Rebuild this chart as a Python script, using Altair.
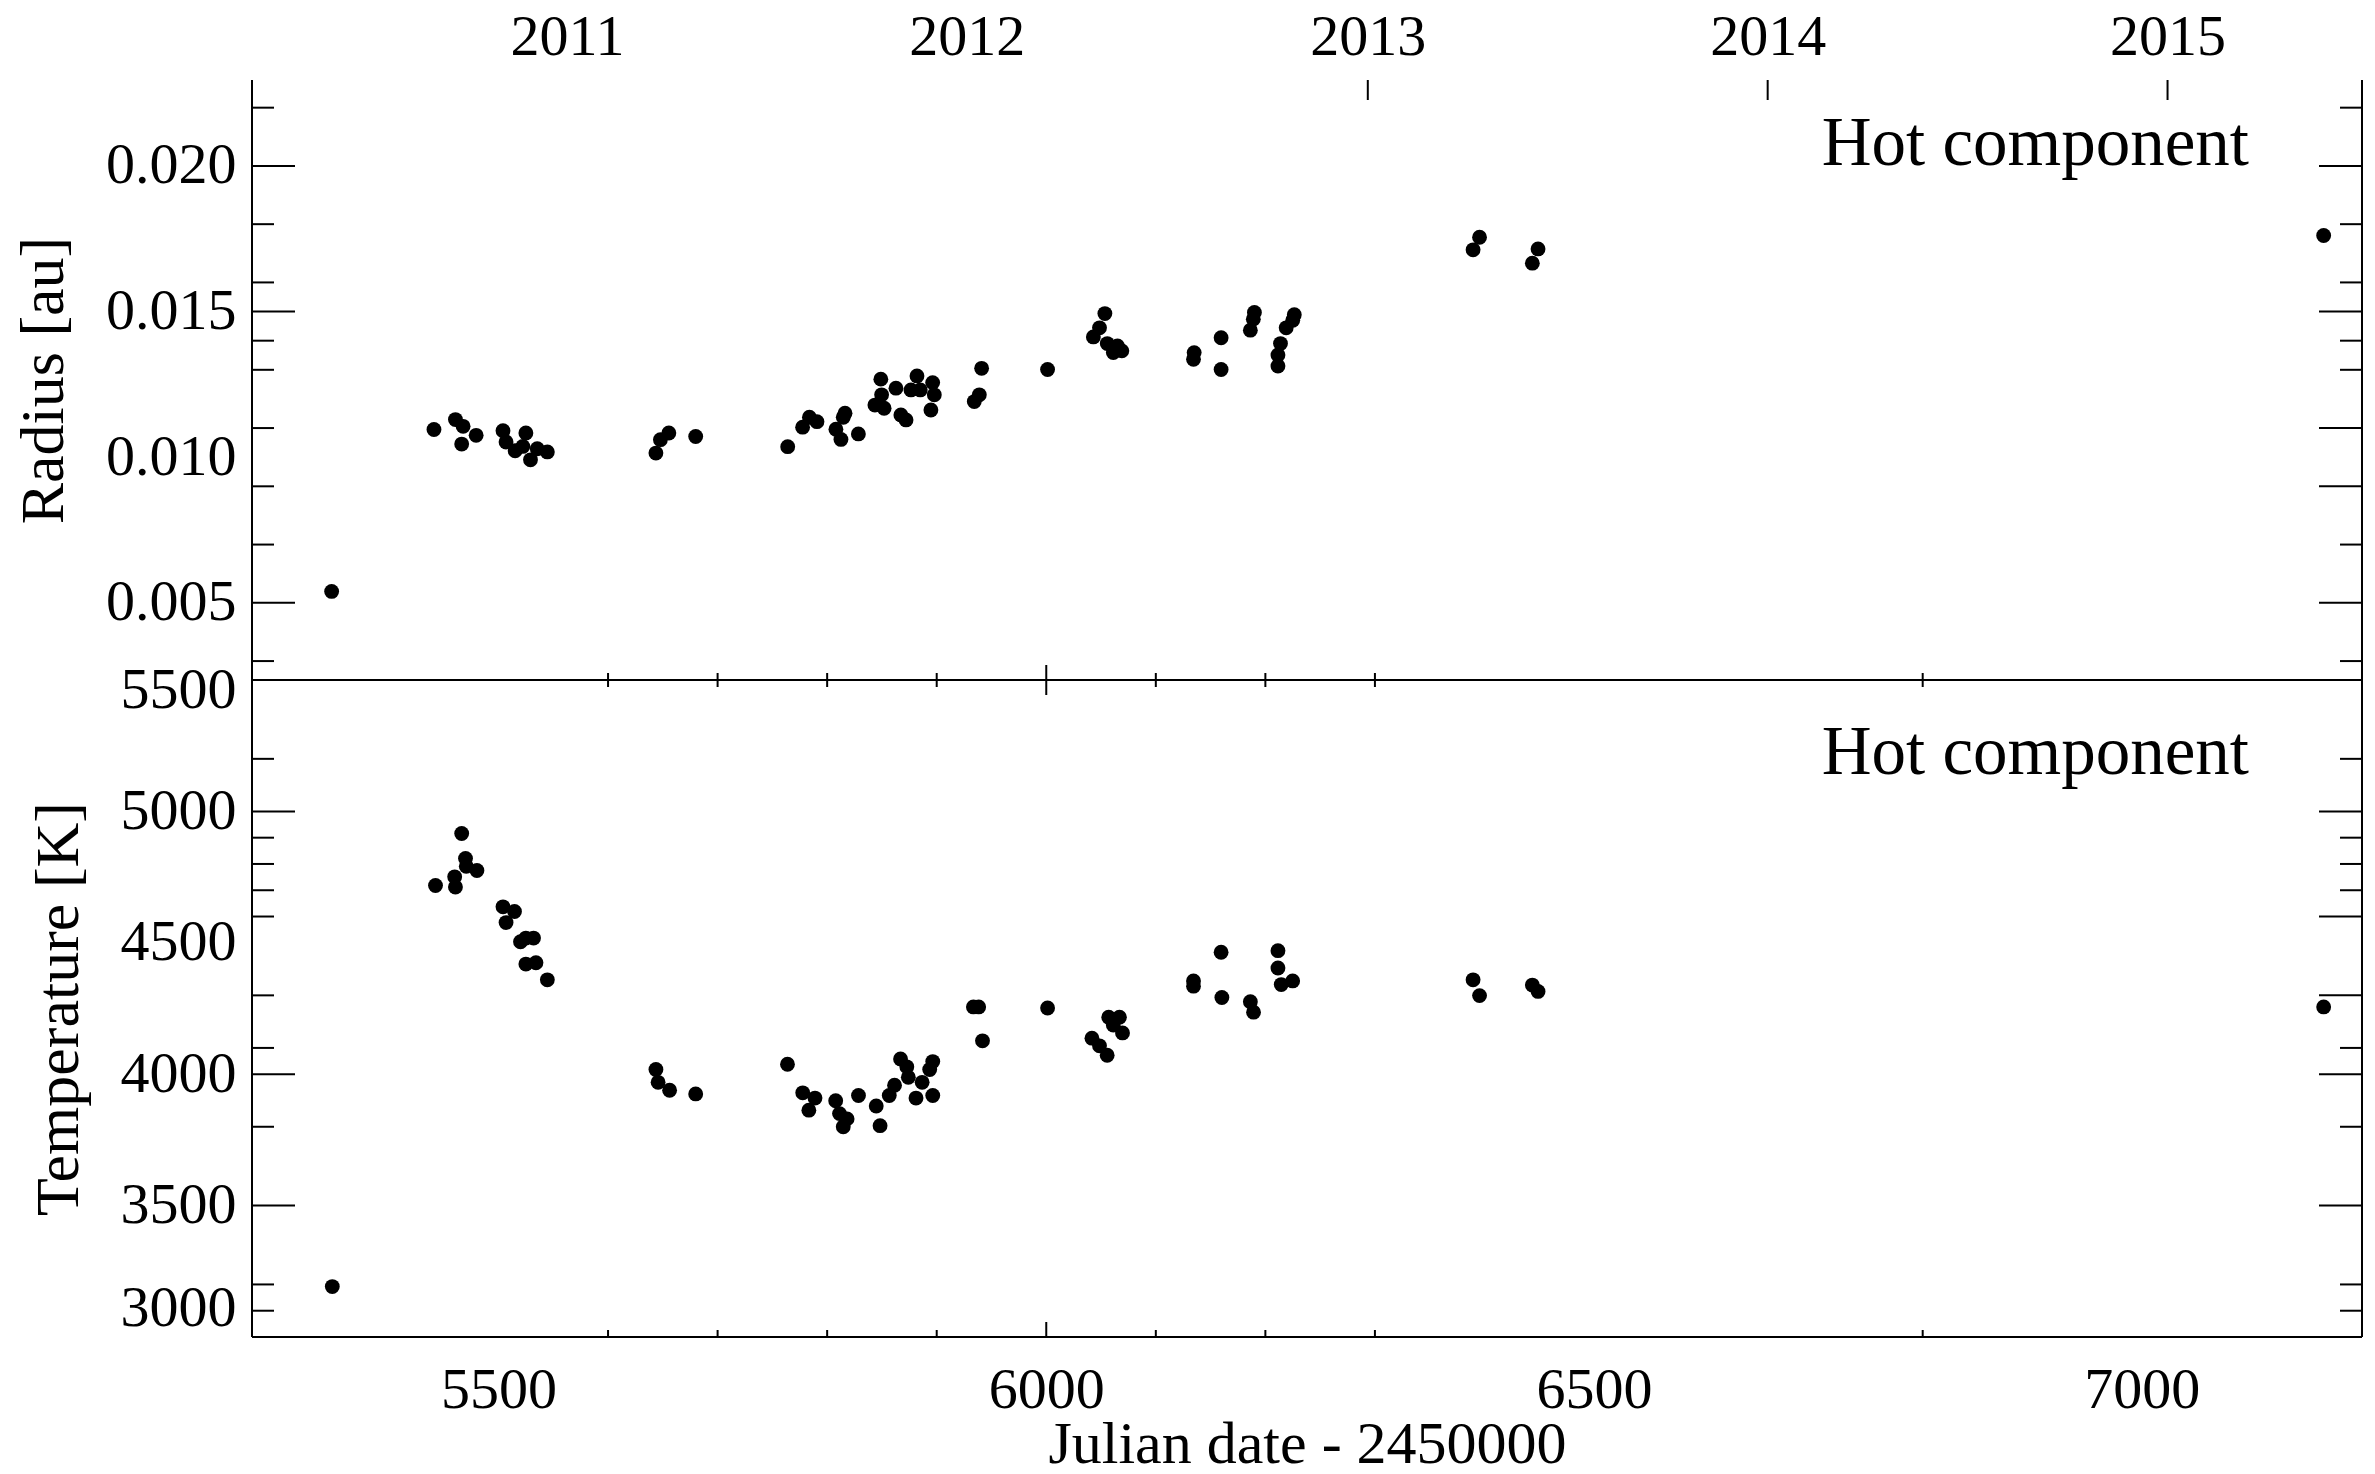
import altair as alt
import pandas as pd

# Hot component of the symbiotic binary: radius and temperature vs. Julian date
jd_radius = [5347.7, 5441.1, 5460.7, 5466.4, 5467.7, 5479.6, 5504.1, 5506.9, 5515.2, 5522.2,
             5525.0, 5529.2, 5535.4, 5544.6, 5643.7, 5647.8, 5655.5, 5680.0, 5764.0, 5777.6,
             5783.8, 5790.7, 5808.0, 5812.6, 5814.7, 5816.3, 5828.5, 5843.6, 5849.0, 5849.7,
             5852.0, 5862.8, 5867.3, 5872.0, 5882.0, 5885.0, 5876.5, 5894.7, 5896.3, 5934.3,
             5938.9, 5941.0, 6001.2, 6043.0, 6048.6, 6053.5, 6055.7, 6061.2, 6065.0, 6069.0,
             6134.4, 6135.0, 6159.6, 6159.6, 6186.3, 6189.0, 6190.0, 6211.5, 6211.5, 6213.8,
             6219.0, 6225.0, 6226.4, 6389.6, 6395.5, 6443.7, 6448.9, 7166.0, 5897.8]
radius = [0.00539, 0.01095, 0.01129, 0.01045, 0.01106, 0.01075, 0.01091, 0.01052, 0.01022, 0.01037,
          0.01083, 0.00991, 0.01029, 0.01018, 0.01014, 0.01060, 0.01083, 0.01071, 0.01036, 0.01103,
          0.01137, 0.01122, 0.01096, 0.01061, 0.01137, 0.01151, 0.01080, 0.01179, 0.01268, 0.01214,
          0.01168, 0.01237, 0.01145, 0.01128, 0.01279, 0.01231, 0.01231, 0.01162, 0.01256, 0.01191,
          0.01214, 0.01305, 0.01301, 0.01413, 0.01444, 0.01493, 0.01390, 0.01359, 0.01382, 0.01365,
          0.01336, 0.01359, 0.01410, 0.01301, 0.01436, 0.01474, 0.01497, 0.01313, 0.01351, 0.01390,
          0.01444, 0.01470, 0.01489, 0.01712, 0.01755, 0.01666, 0.01715, 0.01761, 0.01214]

jd_temp = [5348.3, 5442.5, 5460.0, 5460.7, 5466.4, 5469.9, 5470.6, 5480.3, 5504.1, 5506.9,
           5514.6, 5520.1, 5525.0, 5532.0, 5525.0, 5534.2, 5544.6, 5643.7, 5645.7, 5656.2,
           5680.0, 5763.8, 5777.7, 5783.3, 5788.9, 5807.8, 5811.3, 5814.7, 5818.2, 5828.6,
           5844.8, 5848.3, 5856.7, 5861.5, 5867.0, 5872.7, 5874.1, 5881.1, 5886.7, 5893.6,
           5896.4, 5896.4, 5933.5, 5938.3, 5941.8, 6001.2, 6041.7, 6048.6, 6055.6, 6057.0,
           6061.2, 6066.8, 6069.6, 6134.4, 6134.4, 6159.6, 6160.3, 6186.3, 6189.2, 6211.5,
           6211.5, 6214.5, 6224.9, 6389.6, 6395.5, 6443.7, 6448.9, 7166.0]
temperature = [3192, 4718, 4751, 4712, 4916, 4821, 4791, 4775, 4637, 4577,
               4619, 4504, 4518, 4518, 4419, 4424, 4359, 4018, 3969, 3939,
               3925, 4038, 3929, 3863, 3909, 3899, 3850, 3800, 3830, 3919,
               3879, 3804, 3919, 3958, 4058, 4028, 3988, 3909, 3969, 4018,
               4048, 3919, 4256, 4256, 4127, 4252, 4137, 4108, 4072, 4217,
               4187, 4217, 4157, 4355, 4335, 4464, 4292, 4276, 4236, 4470,
               4404, 4341, 4355, 4359, 4299, 4339, 4315, 4256]

# calendar years on the upper axis (JD - 2450000 of 1 January)
year_labels = ["2011", "2012", "2013", "2014", "2015"]
year_jd = [5562.5, 5927.5, 6293.5, 6658.5, 7023.5]
year_ticked = [6293.5, 6658.5, 7023.5]

# tick marks
jd_labels = [5500, 6000, 6500, 7000]
jd_minor_ticks = [5600, 5700, 5800, 5900, 6100, 6200, 6300, 6800]
jd_major_ticks = [6000]

radius_labels = [0.005, 0.010, 0.015, 0.020]
radius_left_long = [0.005, 0.015, 0.020]
radius_left_short = [0.003, 0.007, 0.009, 0.011, 0.013, 0.014, 0.016, 0.018, 0.022]
radius_right_long = [0.005, 0.009, 0.011, 0.015, 0.020]
radius_right_short = [0.003, 0.007, 0.013, 0.014, 0.016, 0.018, 0.022]

temp_labels = [3000, 3500, 4000, 4500, 5000, 5500]
temp_left_long = [3500, 4000, 5000]
temp_left_short = [3100, 3200, 3800, 4100, 4300, 4600, 4700, 4800, 4900, 5200]
temp_right_long = [3500, 4000, 4300, 4600, 5000]
temp_right_short = [3100, 3200, 3800, 4100, 4700, 4800, 4900, 5200]

W = 2110
H_TOP = 600
H_BOT = 657
LONG, SHORT = 43, 22
X_LONG, X_SHORT = 15, 7
FONT = "Liberation Serif"
DOT = 220

x_scale = alt.Scale(domain=[5275, 7201], nice=False, zero=False)
r_scale = alt.Scale(domain=[0.00235, 0.02295], nice=False, zero=False)
t_scale = alt.Scale(domain=[3000, 5500], nice=False, zero=False)

year_expr = " : ".join(
    f"datum.value < {jd + 1} ? '{lab}'" for jd, lab in zip(year_jd, year_labels)
) + " : ''"

# one axis object per channel and panel, shared by every layer of that panel
top_x_axis = alt.Axis(orient="top", values=year_jd, labelExpr=year_expr, ticks=False,
                      domain=False, grid=False, title=None, labelPadding=14)
r_axis = alt.Axis(values=radius_labels, format=".3f", ticks=False, domain=False,
                  grid=False, title="Radius [au]", labelPadding=16, titlePadding=30)
bot_x_axis = alt.Axis(values=jd_labels, format="d", ticks=False, domain=False, grid=False,
                      title="Julian date - 2450000", labelPadding=24, titlePadding=-4,
                      titleFontSize=60)
t_axis = alt.Axis(values=temp_labels, format="d", ticks=False, domain=False, grid=False,
                  title="Temperature [K]", labelPadding=16, titlePadding=30, labelFlush=True,
                  labelOffset={"condition": {"test": f"datum.value >= {temp_labels[-1]}",
                                             "value": -19},
                               "value": 0})

one_row = alt.Data(values=[{"k": 0}])


def tick_df(vals):
    return pd.DataFrame({"v": vals})


def frame(width, height, top=True):
    """Panel border drawn as rules (the radius panel has no top edge)."""
    rules = [
        alt.Chart(one_row).mark_rule(color="black", strokeWidth=2).encode(
            x=alt.value(0), y=alt.value(0), y2=alt.value(height)),
        alt.Chart(one_row).mark_rule(color="black", strokeWidth=2).encode(
            x=alt.value(width), y=alt.value(0), y2=alt.value(height)),
        alt.Chart(one_row).mark_rule(color="black", strokeWidth=2).encode(
            x=alt.value(0), x2=alt.value(width), y=alt.value(height)),
    ]
    if top:
        rules.append(alt.Chart(one_row).mark_rule(color="black", strokeWidth=2).encode(
            x=alt.value(0), x2=alt.value(width), y=alt.value(0)))
    return rules


def y_ticks(scale, axis, left_long, left_short, right_long, right_short):
    out = []
    for vals, x0, x1 in [(left_long, 0, LONG), (left_short, 0, SHORT),
                         (right_long, W, W - LONG), (right_short, W, W - SHORT)]:
        out.append(alt.Chart(tick_df(vals)).mark_rule(color="black", strokeWidth=2).encode(
            y=alt.Y("v:Q", scale=scale, axis=axis),
            x=alt.value(x0), x2=alt.value(x1)))
    return out


def x_ticks(height, axis, at_bottom=True, at_top=True):
    out = []
    for vals, ln in [(jd_major_ticks, X_LONG), (jd_minor_ticks, X_SHORT)]:
        if at_bottom:
            out.append(alt.Chart(tick_df(vals)).mark_rule(color="black", strokeWidth=2).encode(
                x=alt.X("v:Q", scale=x_scale, axis=axis),
                y=alt.value(height), y2=alt.value(height - ln)))
        if at_top:
            out.append(alt.Chart(tick_df(vals)).mark_rule(color="black", strokeWidth=2).encode(
                x=alt.X("v:Q", scale=x_scale, axis=axis),
                y=alt.value(0), y2=alt.value(ln)))
    return out


def label_text(y_px):
    return alt.Chart(pd.DataFrame({"t": ["Hot component"]})).mark_text(
        font=FONT, fontSize=69, color="black", align="right", baseline="alphabetic"
    ).encode(text="t:N", x=alt.value(1997), y=alt.value(y_px))


df_r = pd.DataFrame({"jd": jd_radius, "r": radius})
df_t = pd.DataFrame({"jd": jd_temp, "T": temperature})

radius_points = alt.Chart(df_r).mark_circle(size=DOT, color="black", opacity=1).encode(
    x=alt.X("jd:Q", scale=x_scale, axis=top_x_axis),
    y=alt.Y("r:Q", scale=r_scale, axis=r_axis),
)

year_tick_rules = alt.Chart(tick_df(year_ticked)).mark_rule(color="black", strokeWidth=2).encode(
    x=alt.X("v:Q", scale=x_scale, axis=top_x_axis), y=alt.value(0), y2=alt.value(20))

top = alt.layer(
    radius_points,
    year_tick_rules,
    *y_ticks(r_scale, r_axis, radius_left_long, radius_left_short,
             radius_right_long, radius_right_short),
    *x_ticks(H_TOP, top_x_axis, at_bottom=True, at_top=False),
    *frame(W, H_TOP, top=False),
    label_text(85),
).properties(width=W, height=H_TOP)

temp_points = alt.Chart(df_t).mark_circle(size=DOT, color="black", opacity=1).encode(
    x=alt.X("jd:Q", scale=x_scale, axis=bot_x_axis),
    y=alt.Y("T:Q", scale=t_scale, axis=t_axis),
)

bottom = alt.layer(
    temp_points,
    *y_ticks(t_scale, t_axis, temp_left_long, temp_left_short,
             temp_right_long, temp_right_short),
    *x_ticks(H_BOT, bot_x_axis, at_bottom=True, at_top=True),
    *frame(W, H_BOT, top=True),
    label_text(94),
).properties(width=W, height=H_BOT)

# panels stacked edge to edge: only the view sizes take part in the layout
chart = alt.vconcat(top, bottom, spacing=0, bounds="flush").properties(
    padding={"left": 12, "top": 8, "right": 8, "bottom": 0},
    background="white",
).configure_view(stroke=None).configure_axis(
    labelFont=FONT, titleFont=FONT, labelFontSize=58, titleFontSize=62,
    labelColor="black", titleColor="black", titleFontWeight="normal",
    labelFontWeight="normal",
)

chart.save("out.html", embed_options={"renderer": "svg", "actions": False})
